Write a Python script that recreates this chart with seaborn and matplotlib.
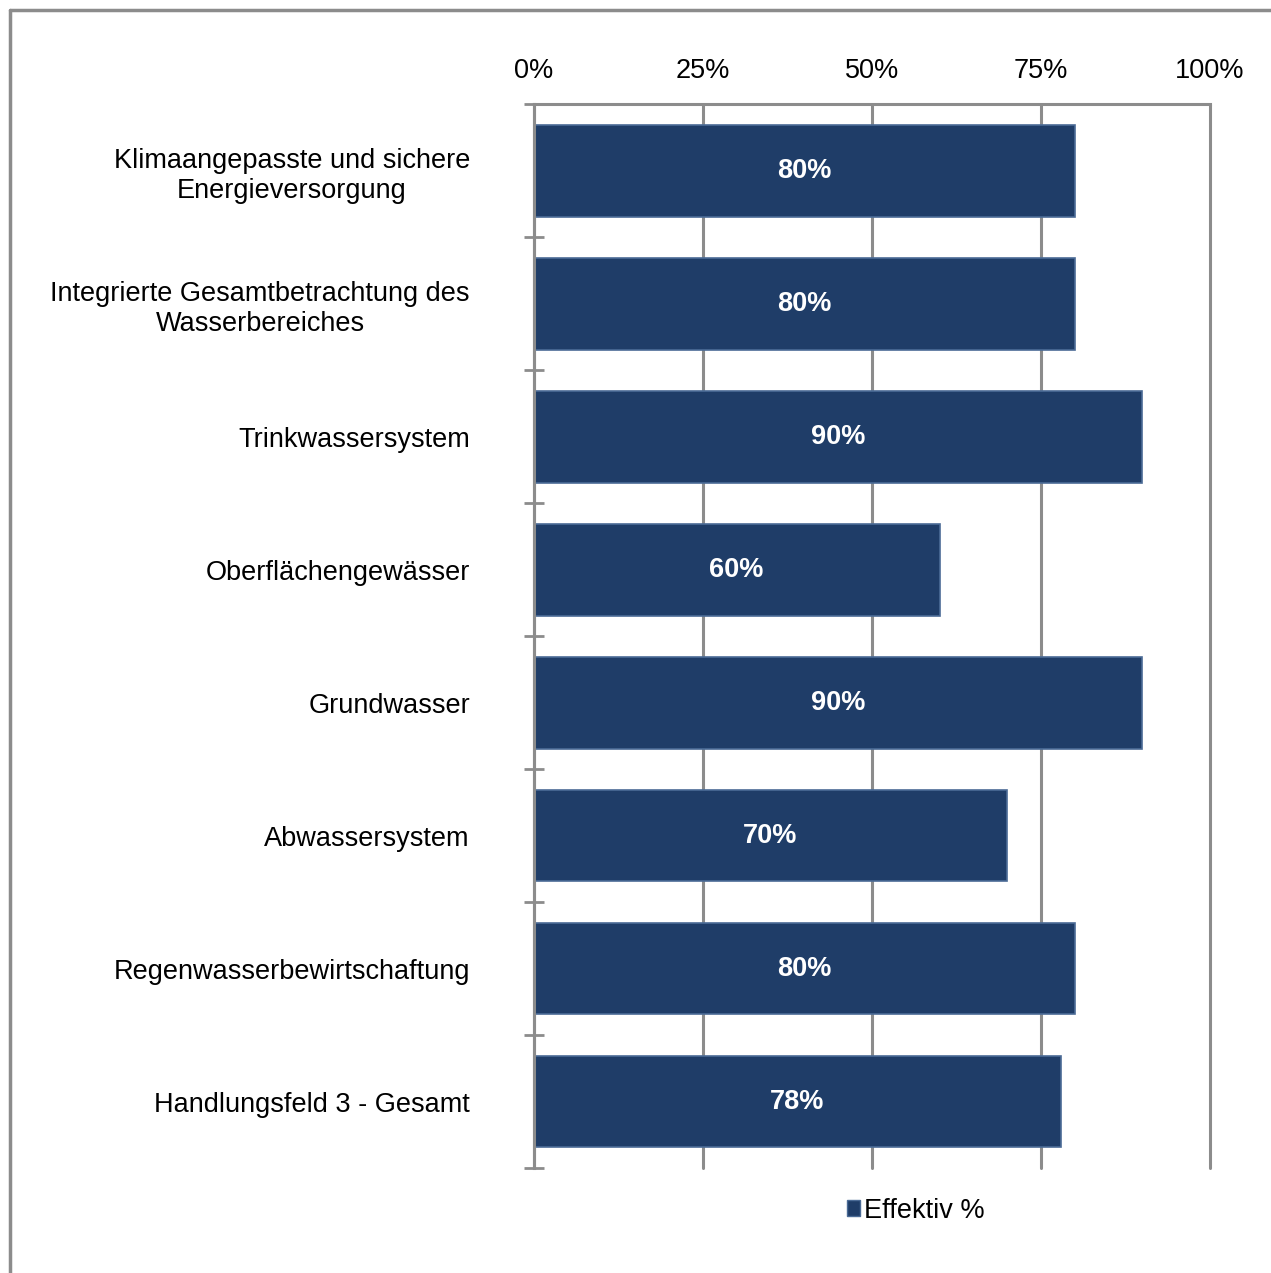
import pandas as pd
import seaborn as sns
import matplotlib.pyplot as plt
from matplotlib.lines import Line2D
from matplotlib.patches import Patch

#--Data--#
categories = [
    'Klimaangepasste und sichere\nEnergieversorgung',
    'Integrierte Gesamtbetrachtung des\nWasserbereiches',
    'Trinkwassersystem',
    'Oberflächengewässer',
    'Grundwasser',
    'Abwassersystem',
    'Regenwasserbewirtschaftung',
    'Handlungsfeld 3 - Gesamt',
]
values = [80, 80, 90, 60, 90, 70, 80, 78]
series_name = 'Effektiv %'
x_ticks = [0, 25, 50, 75, 100]

df = pd.DataFrame({'Kategorie': categories, 'Wert': values})

#--Style--#
sns.set_style('white')
plt.rcParams['font.family'] = ['Liberation Sans', 'DejaVu Sans']
plt.rcParams['text.color'] = 'black'
plt.rcParams['xtick.color'] = 'black'
plt.rcParams['ytick.color'] = 'black'

bar_color = '#1f3d68'
edge_color = '#4b6b96'
grid_color = '#8c8c8c'

fig = plt.figure(figsize=(12.71, 12.73), dpi=100)
ax = fig.add_axes([0.420, 0.0825, 0.532, 0.8355])

sns.barplot(data=df, x='Wert', y='Kategorie', orient='h', color=bar_color,
            width=0.69, edgecolor=edge_color, linewidth=1.2, saturation=1, ax=ax)

#--Bar labels--#
for container in ax.containers:
    ax.bar_label(container, labels=[f'{v}%' for v in values], label_type='center',
                 color='white', fontsize=19.5, fontweight='bold')

#--Axes--#
ax.set_xlim(0, 100)
ax.set_ylim(len(categories) - 0.5, -0.5)
ax.set_xlabel('')
ax.set_ylabel('')
ax.xaxis.tick_top()
ax.set_xticks(x_ticks)
ax.set_xticklabels([f'{t}%' for t in x_ticks], fontsize=19.5)
ax.tick_params(axis='x', length=0, pad=15)
ax.grid(axis='x', color=grid_color, linewidth=2.2)
for line in ax.get_xgridlines():
    line.set_clip_on(False)
ax.set_axisbelow(True)

ax.set_yticks(range(len(categories)))
ax.set_yticklabels(categories, fontsize=19.5, multialignment='center')
ax.tick_params(axis='y', which='major', left=False, length=0, pad=46)
ax.set_yticks([i + 0.5 for i in range(-1, len(categories))], minor=True)
ax.tick_params(axis='y', which='minor', left=True, length=14, width=2,
               color=grid_color, direction='inout')

for side in ['right', 'bottom']:
    ax.spines[side].set_visible(False)
for side in ['top', 'left']:
    ax.spines[side].set_color(grid_color)
    ax.spines[side].set_linewidth(2.2)

#--Legend--#
handle = Patch(facecolor=bar_color, edgecolor=edge_color, label=series_name)
ax.legend(handles=[handle], loc='center', bbox_to_anchor=(0.565, -0.04),
          frameon=False, fontsize=19.5, handlelength=0.5, handleheight=0.5,
          handletextpad=0.15)

#--Outer frame (top and left only)--#
fig.add_artist(Line2D([10 / 1271, 10 / 1271], [0, 1 - 10 / 1273],
                      transform=fig.transFigure, color=grid_color, linewidth=2.5))
fig.add_artist(Line2D([10 / 1271, 1], [1 - 10 / 1273, 1 - 10 / 1273],
                      transform=fig.transFigure, color=grid_color, linewidth=2.5))

fig.savefig('out.png', dpi=100, facecolor='white')
